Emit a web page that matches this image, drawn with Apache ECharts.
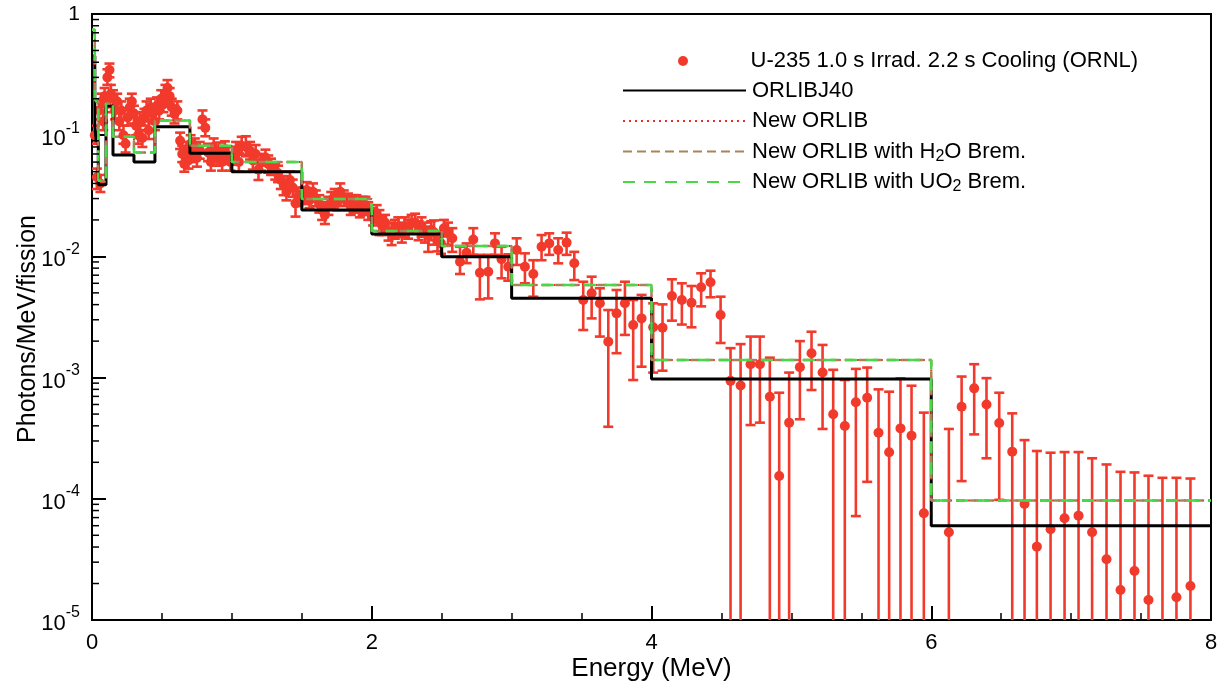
<!DOCTYPE html>
<html>
<head>
<meta charset="utf-8">
<script src="https://cdn.jsdelivr.net/npm/echarts@6/dist/echarts.min.js"></script>
<style>
  html, body { margin: 0; padding: 0; background: #ffffff; }
  #chart { width: 1225px; height: 690px; }
</style>
</head>
<body>
<div id="chart"></div>
<script>
// ---- Measured spectrum: U-235, 1.0 s irradiation, 2.2 s cooling (ORNL) ----
// energy in MeV, flux in photons/MeV/fission; a lower bound of 0 means the bar runs below the axis
const energy = [
  0.02, 0.035, 0.05, 0.06, 0.07, 0.08, 0.09, 0.1, 0.11, 0.125, 0.135, 0.15, 0.165, 0.18, 0.195, 0.21,
  0.225, 0.24, 0.255, 0.27, 0.285, 0.30, 0.315, 0.33, 0.345, 0.36, 0.375, 0.39, 0.405, 0.42, 0.435, 0.45,
  0.465, 0.48, 0.495, 0.51, 0.525, 0.54, 0.555, 0.57, 0.59, 0.61, 0.63, 0.645, 0.66, 0.675, 0.69, 0.705,
  0.72, 0.735, 0.75, 0.77, 0.79, 0.81, 0.83, 0.85, 0.87, 0.89, 0.91, 0.93, 0.95, 0.97, 0.99,
  1.01, 1.03, 1.05, 1.07, 1.10, 1.13, 1.15, 1.17, 1.19, 1.21, 1.24, 1.26, 1.28, 1.31, 1.33, 1.35,
  1.37, 1.39, 1.415, 1.435, 1.455, 1.475,
  1.515, 1.535, 1.555, 1.58, 1.60, 1.625, 1.645, 1.665, 1.69, 1.71, 1.735, 1.755, 1.775, 1.80, 1.83, 1.85,
  1.87, 1.89, 1.915, 1.935, 1.955, 1.975,
  2.01, 2.035, 2.055, 2.075, 2.095, 2.12, 2.142, 2.165, 2.19, 2.215, 2.237, 2.26, 2.285, 2.31, 2.335, 2.356,
  2.38, 2.404, 2.425, 2.445, 2.47, 2.495, 2.516, 2.545,
  2.576, 2.631, 2.678, 2.726, 2.773, 2.833, 2.881, 2.928, 2.976, 3.036, 3.095, 3.155, 3.214, 3.269, 3.333, 3.393,
  3.448, 3.512, 3.572, 3.631, 3.691, 3.750, 3.810, 3.869, 3.929,
  4.012, 4.079, 4.146, 4.217, 4.286, 4.355, 4.422, 4.494, 4.565, 4.637, 4.708, 4.775, 4.846, 4.913, 4.984, 5.061,
  5.144, 5.223, 5.299, 5.382, 5.461, 5.542, 5.623, 5.699, 5.780, 5.859, 5.947,
  6.126, 6.217, 6.307, 6.395, 6.486, 6.579, 6.667, 6.755, 6.853, 6.953, 7.053, 7.150, 7.253, 7.353, 7.453, 7.553,
  7.653, 7.753, 7.853
];
const flux = [
  0.10, 0.045, 0.16, 0.040, 0.19, 0.13, 0.21, 0.18, 0.30, 0.345, 0.22, 0.20, 0.16, 0.19, 0.13, 0.16,
  0.10, 0.085, 0.14, 0.17, 0.19, 0.15, 0.12, 0.10, 0.13, 0.095, 0.14, 0.16, 0.11, 0.17, 0.15, 0.13,
  0.175, 0.16, 0.20, 0.18, 0.22, 0.245, 0.21, 0.17, 0.15, 0.16, 0.09, 0.07, 0.058, 0.075, 0.062, 0.085,
  0.07, 0.08, 0.065, 0.075, 0.135, 0.115, 0.072, 0.06, 0.08, 0.066, 0.074, 0.06, 0.076, 0.068, 0.06,
  0.068, 0.075, 0.06, 0.082, 0.080, 0.0745, 0.062, 0.07, 0.052, 0.06, 0.0656, 0.058, 0.055, 0.05, 0.0485, 0.043,
  0.039, 0.034, 0.0427, 0.037, 0.0274, 0.031,
  0.032, 0.0353, 0.029, 0.0342, 0.030, 0.027, 0.024, 0.022, 0.026, 0.0292, 0.031, 0.028, 0.0342, 0.030, 0.0283, 0.026,
  0.027, 0.0274, 0.025, 0.026, 0.0266, 0.024,
  0.021, 0.0227, 0.0193, 0.018, 0.019, 0.016, 0.0155, 0.017, 0.0176, 0.016, 0.0176, 0.017, 0.0188, 0.019, 0.0165, 0.0176,
  0.0158, 0.015, 0.0165, 0.0158, 0.0135, 0.0128, 0.0171, 0.0155,
  0.0141, 0.00904, 0.0107, 0.0138, 0.00734, 0.00748, 0.0128, 0.00946, 0.00822, 0.0113, 0.00822, 0.00716, 0.0120, 0.0128, 0.0113, 0.0130,
  0.00877, 0.00437, 0.00496, 0.0041, 0.00198, 0.00339, 0.0041, 0.00272, 0.00308,
  0.0026, 0.00258, 0.00471, 0.00437, 0.00415, 0.00556, 0.00611, 0.00329, 0.00094, 0.00086, 0.00129, 0.00129, 0.000696, 0.000154, 0.000425, 0.00122,
  0.00159, 0.0011, 0.000498, 0.000399, 0.000625, 0.000683, 0.000351, 0.000242, 0.000381, 0.000332, 0.000076,
  0.000053, 0.000575, 0.000815, 0.0006, 0.000422, 0.000245, 0.0000906, 0.0000403, 0.000056, 0.000069, 0.0000726, 0.000053, 0.0000317, 0.0000177, 0.0000254, 0.0000146,
  0.000008, 0.0000154, 0.0000191
];
const fluxUpper = [
  0.12, 0.053, 0.19, 0.047, 0.22, 0.155, 0.245, 0.21, 0.35, 0.39, 0.26, 0.235, 0.19, 0.22, 0.155, 0.19,
  0.12, 0.10, 0.165, 0.20, 0.22, 0.175, 0.14, 0.12, 0.155, 0.11, 0.165, 0.19, 0.13, 0.20, 0.175, 0.155,
  0.205, 0.19, 0.235, 0.21, 0.26, 0.285, 0.245, 0.20, 0.175, 0.19, 0.105, 0.082, 0.068, 0.088, 0.072, 0.10,
  0.082, 0.094, 0.076, 0.088, 0.16, 0.135, 0.085, 0.07, 0.094, 0.077, 0.087, 0.07, 0.089, 0.08, 0.07,
  0.08, 0.088, 0.071, 0.097, 0.098, 0.088, 0.073, 0.083, 0.0586, 0.07, 0.076, 0.068, 0.064, 0.058, 0.056, 0.05,
  0.046, 0.04, 0.05, 0.043, 0.0347, 0.037,
  0.037, 0.041, 0.034, 0.040, 0.035, 0.032, 0.028, 0.026, 0.031, 0.034, 0.036, 0.033, 0.040, 0.035, 0.033, 0.031,
  0.032, 0.032, 0.029, 0.031, 0.031, 0.028,
  0.025, 0.0265, 0.0241, 0.021, 0.022, 0.019, 0.0188, 0.020, 0.021, 0.019, 0.021, 0.020, 0.022, 0.0225, 0.0195, 0.021,
  0.019, 0.0176, 0.0195, 0.0198, 0.016, 0.0155, 0.020, 0.019,
  0.0171, 0.012, 0.0128, 0.0171, 0.0103, 0.0103, 0.0155, 0.012, 0.0104, 0.0141, 0.0106, 0.0093, 0.015, 0.0155, 0.0141, 0.0157,
  0.0109, 0.00618, 0.0068, 0.00546, 0.00361, 0.00528, 0.00618, 0.00437, 0.00481,
  0.0041, 0.00402, 0.00647, 0.006, 0.0057, 0.00725, 0.00762, 0.00465, 0.00175, 0.00189, 0.00218, 0.00218, 0.00146, 0.00075, 0.0011, 0.002,
  0.00239, 0.00186, 0.00116, 0.000955, 0.00118, 0.00121, 0.0008, 0.000765, 0.000986, 0.000857, 0.000514,
  0.000377, 0.00102, 0.00129, 0.00099, 0.00075, 0.000507, 0.000305, 0.000248, 0.00024, 0.000243, 0.000243, 0.000216, 0.000192, 0.000167, 0.000165, 0.000155,
  0.000149, 0.000149, 0.000147
];
const fluxLower = [
  0.085, 0.036, 0.135, 0.034, 0.16, 0.11, 0.18, 0.155, 0.26, 0.30, 0.19, 0.17, 0.135, 0.16, 0.11, 0.135,
  0.085, 0.072, 0.12, 0.145, 0.16, 0.125, 0.10, 0.085, 0.11, 0.08, 0.12, 0.135, 0.093, 0.145, 0.125, 0.11,
  0.15, 0.135, 0.17, 0.155, 0.19, 0.21, 0.18, 0.145, 0.125, 0.135, 0.077, 0.06, 0.05, 0.064, 0.053, 0.072,
  0.06, 0.068, 0.055, 0.064, 0.115, 0.098, 0.061, 0.051, 0.068, 0.056, 0.063, 0.051, 0.065, 0.058, 0.051,
  0.057, 0.063, 0.05, 0.069, 0.067, 0.063, 0.052, 0.059, 0.0427, 0.051, 0.056, 0.049, 0.047, 0.043, 0.041, 0.036,
  0.032, 0.029, 0.036, 0.031, 0.0213, 0.026,
  0.027, 0.030, 0.025, 0.029, 0.026, 0.023, 0.020, 0.0185, 0.022, 0.025, 0.026, 0.024, 0.029, 0.026, 0.024, 0.022,
  0.023, 0.023, 0.021, 0.022, 0.022, 0.020,
  0.018, 0.019, 0.015, 0.015, 0.016, 0.0135, 0.0124, 0.014, 0.0145, 0.013, 0.0145, 0.014, 0.0155, 0.0158, 0.0136, 0.0145,
  0.013, 0.0109, 0.0136, 0.0125, 0.011, 0.0105, 0.0146, 0.0125,
  0.0109, 0.00716, 0.0088, 0.0103, 0.00442, 0.0045, 0.0103, 0.0066, 0.0063, 0.0085, 0.006, 0.00465, 0.0093, 0.0103, 0.00877, 0.0103,
  0.00638, 0.00247, 0.00308, 0.00218, 0.000393, 0.00159, 0.00225, 0.000955, 0.00123,
  0.0011, 0.00114, 0.00295, 0.00274, 0.0026, 0.00387, 0.0046, 0.00193, 0, 0, 0.000406, 0.000425, 0, 0, 0, 0.000453,
  0.00079, 0.000377, 0, 0, 0.000072, 0.000138, 0, 0, 0, 0, 0,
  0, 0.00014, 0.00034, 0.000216, 0.000098, 0, 0, 0, 0, 0, 0, 0, 0, 0, 0, 0,
  0, 0, 0
];

// ---- Calculated group spectra (ORIGEN 18-group energy boundaries, MeV) ----
const groupEdges = [0, 0.02, 0.03, 0.045, 0.07, 0.1, 0.15, 0.3, 0.45, 0.7, 1.0, 1.5, 2.0, 2.5, 3.0, 4.0, 6.0, 8.0];
const orlibj40 = [0.45, 0.12, 0.09, 0.039, 0.039, 0.174, 0.0687, 0.060, 0.1175, 0.071, 0.050, 0.0241, 0.0153, 0.00995, 0.00451, 0.000975, 0.000060];
const newOrlib = [0.74, 0.20, 0.19, 0.042, 0.041, 0.183, 0.097, 0.072, 0.132, 0.082, 0.060, 0.0298, 0.0162, 0.0122, 0.0058, 0.0014, 0.0000966];
const newOrlibH2O = [0.74, 0.20, 0.19, 0.042, 0.041, 0.183, 0.097, 0.072, 0.132, 0.082, 0.060, 0.0298, 0.0162, 0.0122, 0.0058, 0.0014, 0.0000966];
const newOrlibUO2 = [0.74, 0.20, 0.19, 0.042, 0.041, 0.183, 0.097, 0.072, 0.132, 0.082, 0.060, 0.0298, 0.0162, 0.0122, 0.0058, 0.0014, 0.0000966];

// ---- Axes ----
const xMin = 0, xMax = 8, xInterval = 2;
const yMin = 1e-5, yMax = 1;
const xTickLabels = ['0', '2', '4', '6', '8'];

const names = {
  data: 'U-235 1.0 s Irrad. 2.2 s Cooling (ORNL)',
  j40: 'ORLIBJ40',
  nw: 'New ORLIB',
  h2o: 'New ORLIB with H2O Brem.',
  uo2: 'New ORLIB with UO2 Brem.'
};

if (![flux, fluxUpper, fluxLower].every(a => a.length === energy.length)) {
  console.error('measured arrays differ in length', energy.length, flux.length, fluxUpper.length, fluxLower.length);
}

const RED = '#f23a2c';
const FONT = 'Liberation Sans, Arial, Helvetica, sans-serif';

// histogram outline: each group drawn flat across its bin, joined by vertical risers
function histogram(edges, values) {
  const pts = [];
  for (let i = 0; i < values.length; i++) {
    pts.push([edges[i], values[i]], [edges[i + 1], values[i]]);
  }
  return pts;
}

// log-decade minor tick positions (2..9 x 10^k) for the vertical axis
const minorTickValues = [];
for (let k = Math.round(Math.log10(yMin)); k < Math.round(Math.log10(yMax)); k++) {
  for (let m = 2; m <= 9; m++) minorTickValues.push(m * Math.pow(10, k));
}

const measured = energy.map((e, i) => [e, flux[i], fluxUpper[i], fluxLower[i]]);

function stepSeries(name, values, style, z) {
  return {
    name: name,
    type: 'line',
    data: histogram(groupEdges, values),
    symbol: 'none',
    showSymbol: false,
    itemStyle: { color: style.color },
    lineStyle: style,
    clip: true,
    z: z,
    silent: true
  };
}

// legend rows: vertical centre of each row; the marker row is shifted so its text lines up with the others
const legendRows = [
  { name: names.data, y: 61, line: false, left: 678 },
  { name: names.j40, y: 90.5, line: true, left: 622 },
  { name: names.nw, y: 121, line: true, left: 622 },
  { name: names.h2o, y: 151.5, line: true, left: 622 },
  { name: names.uo2, y: 182, line: true, left: 622 }
];

const legendText = {
  color: '#000',
  fontFamily: FONT,
  fontSize: 22,
  lineHeight: 26,
  rich: {
    g: { width: 1 },
    sub: { fontSize: 16, lineHeight: 16, verticalAlign: 'bottom', padding: [10, 0, 0, 0], fontFamily: FONT, color: '#000' }
  }
};

const chart = echarts.init(document.getElementById('chart'), null, { renderer: 'canvas' });

chart.setOption({
  animation: false,
  backgroundColor: '#ffffff',
  grid: {
    left: 92, right: 14, top: 14, bottom: 70,
    outerBoundsMode: 'none',
    containLabel: false,
    show: true, borderColor: '#000', borderWidth: 2, backgroundColor: 'transparent'
  },
  legend: legendRows.map(r => ({
    data: [r.line ? r.name : { name: r.name, icon: 'circle' }],
    left: r.left,
    top: r.y - 13,
    padding: 0,
    itemWidth: 123,
    itemHeight: 10,
    selectedMode: false,
    itemStyle: r.line ? { opacity: 0 } : { color: RED, opacity: 1 },
    textStyle: legendText,
    formatter: n => '{g|}' + n.replace('H2O', 'H{sub|2}O').replace('UO2', 'UO{sub|2}')
  })),
  xAxis: {
    type: 'value',
    min: xMin, max: xMax, interval: xInterval,
    name: 'Energy (MeV)',
    nameLocation: 'middle',
    nameGap: 36,
    nameMoveOverlap: false,
    nameTextStyle: { fontFamily: FONT, fontSize: 26, color: '#000' },
    axisLine: { show: true, lineStyle: { color: '#000', width: 2 } },
    axisTick: { show: true, inside: true, length: 14, lineStyle: { color: '#000', width: 2 } },
    minorTick: { show: true, splitNumber: 4, length: 7, lineStyle: { color: '#000', width: 1.5 } },
    splitLine: { show: false },
    axisLabel: {
      margin: 12, fontFamily: FONT, fontSize: 22, color: '#000',
      formatter: v => xTickLabels[Math.round((v - xMin) / xInterval)]
    }
  },
  yAxis: {
    type: 'log',
    logBase: 10,
    min: yMin, max: yMax,
    name: 'Photons/MeV/fission',
    nameLocation: 'middle',
    nameGap: 51,
    nameMoveOverlap: false,
    nameTextStyle: { fontFamily: FONT, fontSize: 25, color: '#000', padding: [0, 24, 0, 0] },
    axisLine: { show: true, lineStyle: { color: '#000', width: 2 } },
    axisTick: { show: true, inside: true, length: 14, lineStyle: { color: '#000', width: 2 } },
    splitLine: { show: false },
    axisLabel: {
      margin: 12, fontFamily: FONT, fontSize: 21, color: '#000',
      formatter: v => {
        const p = Math.round(Math.log10(v));
        return p === 0 ? '1' : '{b|10}{sup|' + p + '}';
      },
      rich: {
        b: { fontSize: 22, padding: [8, 0, 0, 0], fontFamily: FONT, color: '#000' },
        sup: { fontSize: 16, verticalAlign: 'top', lineHeight: 16, padding: [0, 0, 6, 0], fontFamily: FONT, color: '#000' }
      }
    }
  },
  series: [
    {
      // error bars of the measured spectrum
      type: 'custom',
      name: 'error bars',
      data: measured,
      encode: { x: 0, y: 1 },
      clip: true,
      silent: true,
      z: 2,
      renderItem: (params, api) => {
        const x = api.value(0);
        const hi = api.value(2);
        const lo = api.value(3);
        const top = api.coord([x, hi]);
        const bot = api.coord([x, lo > 0 ? lo : yMin]);
        const cap = 5;
        const style = { stroke: RED, lineWidth: 2.6, fill: null };
        const children = [
          { type: 'line', shape: { x1: top[0], y1: top[1], x2: bot[0], y2: bot[1] }, style },
          { type: 'line', shape: { x1: top[0] - cap, y1: top[1], x2: top[0] + cap, y2: top[1] }, style }
        ];
        if (lo > 0) {
          children.push({ type: 'line', shape: { x1: bot[0] - cap, y1: bot[1], x2: bot[0] + cap, y2: bot[1] }, style });
        }
        return { type: 'group', children };
      }
    },
    {
      name: names.data,
      type: 'scatter',
      data: measured.map(d => [d[0], d[1]]),
      symbol: 'circle',
      symbolSize: 10,
      itemStyle: { color: RED, opacity: 1 },
      clip: true,
      silent: true,
      z: 3
    },
    stepSeries(names.j40, orlibj40, { color: '#000', width: 3, type: 'solid' }, 4),
    stepSeries(names.nw, newOrlib, { color: '#e8302a', width: 2, type: [2, 4] }, 5),
    stepSeries(names.h2o, newOrlibH2O, { color: '#a98458', width: 2.5, type: [9, 5] }, 6),
    stepSeries(names.uo2, newOrlibUO2, { color: '#48d848', width: 2.5, type: [12, 9] }, 7),
    {
      // logarithmic minor ticks on the vertical axis, drawn inward
      type: 'custom',
      name: 'y minor ticks',
      data: minorTickValues.map(v => [xMin, v]),
      encode: { x: 0, y: 1 },
      clip: false,
      silent: true,
      z: 10,
      renderItem: (params, api) => {
        const p = api.coord([api.value(0), api.value(1)]);
        return {
          type: 'line',
          shape: { x1: p[0], y1: p[1], x2: p[0] + 7, y2: p[1] },
          style: { stroke: '#000', lineWidth: 1.5 }
        };
      }
    }
  ]
});
</script>
</body>
</html>
